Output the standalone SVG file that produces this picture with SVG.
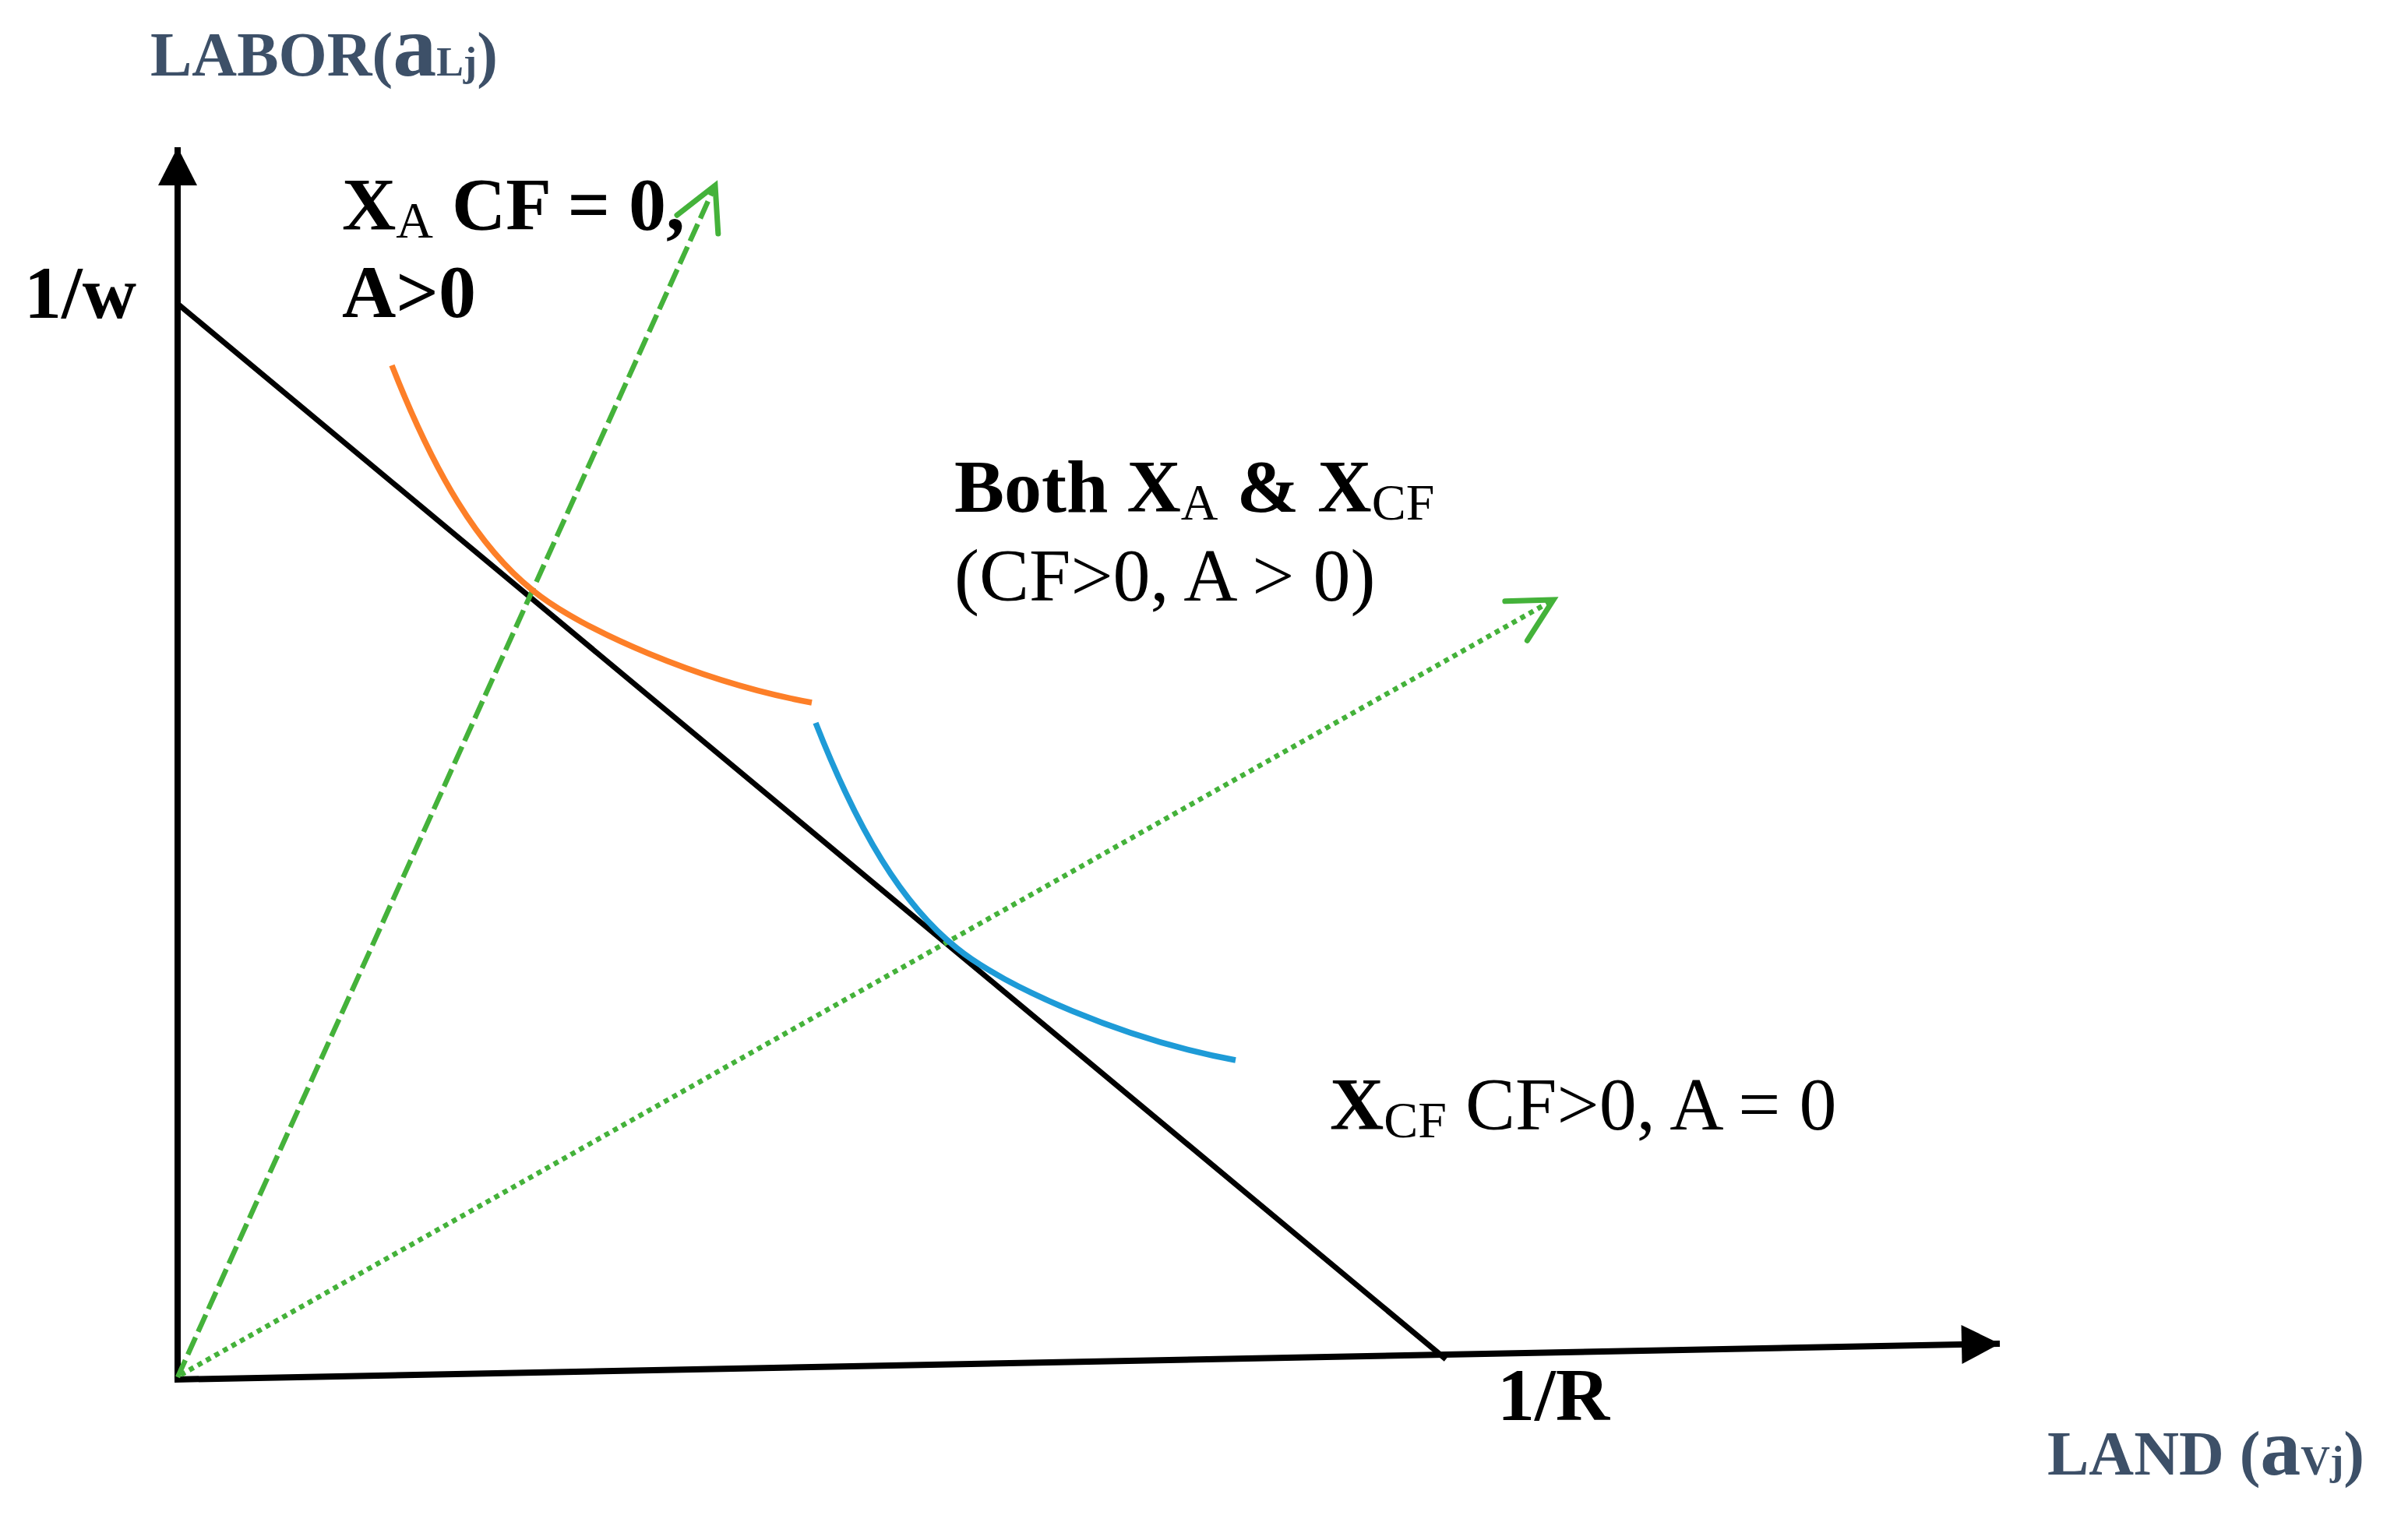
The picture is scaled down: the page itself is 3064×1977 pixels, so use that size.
<svg xmlns="http://www.w3.org/2000/svg" width="3064" height="1977" viewBox="0 0 3064 1977">
<style>
.t{font-family:"Liberation Serif","Times New Roman",serif;fill:#000}
.b{font-weight:bold}
.r{font-weight:normal}
.ax{font-family:"Liberation Serif","Times New Roman",serif;font-weight:bold;fill:#3D5068}
.axis{stroke:#000;stroke-width:8;fill:none}
.budget{stroke:#000;stroke-width:7;fill:none}
.iso{stroke-width:7.5;fill:none;stroke-linecap:butt}
.ray{stroke:#44B23A;stroke-width:6.5;fill:none}
</style>
<defs>
<marker id="solidHead" markerUnits="userSpaceOnUse" orient="auto" refX="0" refY="0" markerWidth="60" markerHeight="60" overflow="visible">
<path d="M-49,-25 L0,0 L-49,25 Z" fill="#000"/>
</marker>
<marker id="openHead" markerUnits="userSpaceOnUse" orient="auto" refX="0" refY="0" markerWidth="80" markerHeight="80" overflow="visible">
<path d="M-55,-29 L0,0 L-55,29" fill="none" stroke="#44B23A" stroke-width="7" stroke-linecap="round" stroke-linejoin="miter"/>
</marker>
</defs>
<rect width="3064" height="1977" fill="#fff"/>

<g id="connectors">
<line id="y-axis" class="axis" x1="228" y1="1772" x2="228" y2="189" marker-end="url(#solidHead)"/>
<line id="x-axis" class="axis" x1="224" y1="1771" x2="2567" y2="1725" marker-end="url(#solidHead)"/>
<line id="budget-line" class="budget" x1="228" y1="390" x2="1856" y2="1745"/>
<line id="ray-a" class="ray" x1="228" y1="1768" x2="918" y2="238" stroke-dasharray="24 8" marker-end="url(#openHead)"/>
<line id="ray-cf" class="ray" x1="232" y1="1765" x2="1994" y2="770" stroke-width="7" stroke-dasharray="6.5 6" marker-end="url(#openHead)"/>
</g>

<g id="isoquant-a">
<path class="iso" stroke="#FD7F28" d="M503,469 C558,609 614,702 684,758 C745,808 900,876 1042,902"/>
</g>
<g id="isoquant-cf">
<path class="iso" stroke="#1E9BD7" transform="translate(544,459)" d="M503,469 C558,609 614,702 684,758 C745,808 900,876 1042,902"/>
</g>

<g id="label-labor">
<text class="ax" x="193" y="97" font-size="80">LABOR(<tspan font-size="112">a</tspan><tspan font-size="52">Lj</tspan>)</text>
</g>
<g id="label-land">
<text class="ax" x="2628" y="1893" font-size="80">LAND (<tspan font-size="104">a</tspan><tspan font-size="52">Vj</tspan>)</text>
</g>
<g id="label-1w">
<text class="t b" x="31" y="408" font-size="96">1/w</text>
</g>
<g id="label-1R">
<text class="t b" x="1922" y="1823" font-size="96">1/R</text>
</g>
<g id="label-xa">
<text class="t b" x="439" y="295" font-size="96">X<tspan class="r" font-size="66" dy="10">A</tspan><tspan dy="-10"> CF = 0,</tspan></text>
<text class="t b" x="439" y="407" font-size="96">A&gt;0</text>
</g>
<g id="label-both">
<text class="t b" x="1225" y="657" font-size="96">Both X<tspan class="r" font-size="66" dy="10">A</tspan><tspan dy="-10"> &amp; X</tspan><tspan class="r" font-size="66" dy="10">CF</tspan></text>
<text class="t r" x="1225" y="771" font-size="96">(CF&gt;0, A &gt; 0)</text>
</g>
<g id="label-xcf">
<text class="t b" x="1707" y="1450" font-size="96">X<tspan class="r" font-size="66" dy="10">CF</tspan><tspan class="r" dy="-10"> CF&gt;0, A = 0</tspan></text>
</g>
</svg>
